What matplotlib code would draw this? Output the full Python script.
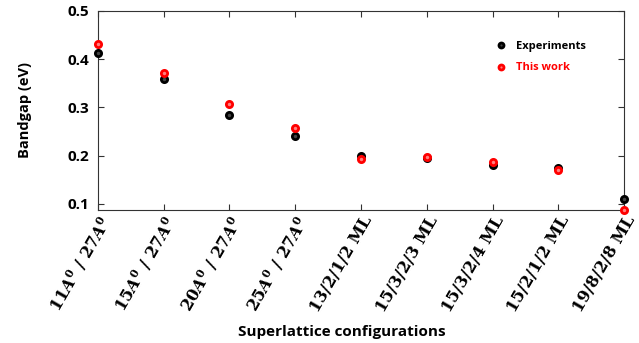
import numpy as np
import matplotlib
matplotlib.use("Agg")
import matplotlib.pyplot as plt

configs = ["11$A^0$ / 27$A^0$", "15$A^0$ / 27$A^0$", "20$A^0$ / 27$A^0$", "25$A^0$ / 27$A^0$",
           "13/2/1/2 ML", "15/3/2/3 ML", "15/3/2/4 ML", "15/2/1/2 ML", "19/8/2/8 ML"]
experiments = [0.412, 0.360, 0.285, 0.240, 0.200, 0.195, 0.180, 0.175, 0.110]
this_work = [0.432, 0.371, 0.308, 0.258, 0.193, 0.198, 0.186, 0.170, 0.088]

plt.rcParams['mathtext.fontset'] = 'custom'
plt.rcParams['mathtext.it'] = 'DejaVu Serif:italic:bold'
plt.rcParams['mathtext.rm'] = 'DejaVu Serif:bold'
plt.rcParams['font.family'] = ['Open Sans', 'DejaVu Sans']

fig = plt.figure(figsize=(6.39, 3.43), dpi=100)
ax = fig.add_axes([0.153, 0.388, 0.824, 0.580])

x = np.arange(1, len(configs) + 1)
ax.plot(x, experiments, 'o', ms=4.5, mfc='#444444', mec='black', mew=2,
        label='Experiments', clip_on=False, zorder=3)
ax.plot(x, this_work, 'o', ms=4.5, mfc='#ff8080', mec='red', mew=2,
        label='This work', clip_on=False, zorder=4)

ax.set_xlim(1, 9)
ax.set_ylim(0.0876, 0.5)
ax.set_yticks([0.1, 0.2, 0.3, 0.4, 0.5])
ax.set_xticks(x)
ax.set_xticklabels(configs, rotation=60, ha='right', va='top', rotation_mode='anchor',
                   family='DejaVu Serif', fontweight='bold', fontsize=11.5)
ax.tick_params(axis='x', pad=2)
for lbl in ax.get_yticklabels():
    lbl.set_fontweight('bold')
    lbl.set_fontsize(11)
ax.tick_params(direction='in', top=True, right=True, length=4, color='#333333')
ax.tick_params(axis='y', pad=6)
for s in ax.spines.values():
    s.set_color('#333333')

ax.set_ylabel('Bandgap (eV)', fontweight='bold', fontsize=10.5)
ax.yaxis.set_label_coords(-0.124, 0.5)
fig.text(0.535, 0.012, 'Superlattice configurations', ha='center', va='bottom',
         fontweight='bold', fontsize=11)

leg = ax.legend(loc='upper left', bbox_to_anchor=(0.725, 0.9), frameon=False,
                handletextpad=0.4, markerscale=0.8, labelspacing=0.95,
                prop={'weight': 'bold', 'size': 8})
leg.get_texts()[1].set_color('red')

fig.savefig('out.png', dpi=100)
